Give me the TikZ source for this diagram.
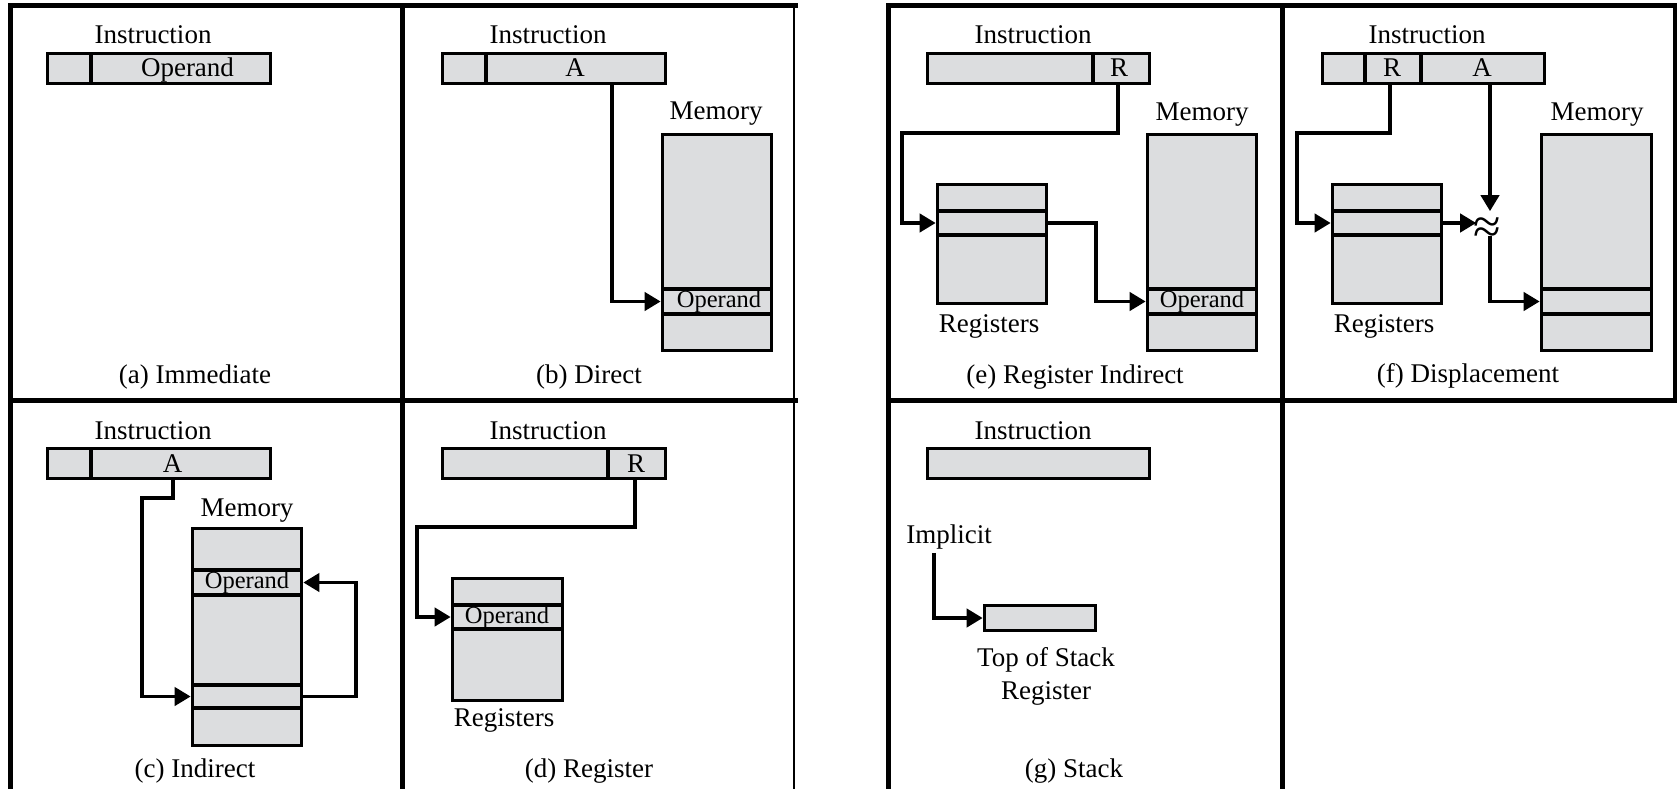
\documentclass[tikz,border=0pt]{standalone}
\usepackage{fontspec}
\setmainfont{Liberation Serif}
\usetikzlibrary{arrows.meta}
\definecolor{cellgray}{RGB}{220,221,223}
\newcommand\lbfont{\fontsize{27}{30}\selectfont}
\newcommand\opfont{\fontsize{24.5}{28}\selectfont}
\newcommand\apfont{\fontsize{50}{52}\selectfont}
\newcommand\cellat[5]{\node[cell, minimum width={(#4)-(#2)}, minimum height={(#5)-(#3)}] (#1) at ({((#2)+(#4))/2},{((#3)+(#5))/2}) {};}
\tikzset{
  frame/.style={line width=5pt, line cap=rect},
  thinframe/.style={line width=2.8pt, line cap=rect},
  cell/.style={draw, line width=3.7pt, fill=cellgray, inner sep=0pt, outer sep=0pt},
  thickdiv/.style={line width=4.8pt},
  conn/.style={line width=3.9pt, -{Triangle[length=16pt,width=18pt]}, shorten >=1.8pt},
  lbl/.style={font=\lbfont, inner sep=0pt, anchor=base},
  oplbl/.style={font=\opfont, inner sep=0pt, anchor=base},
  approx/.style={font=\apfont, inner sep=0pt},
}
\begin{document}
\begin{tikzpicture}[x=1pt,y=-1pt]
\useasboundingbox[fill=white] (0,0) rectangle (1677,789);

% ---------- frames ----------
\draw[frame] (10,800) -- (10,6) -- (795,6);
\draw[frame] (402,6) -- (402,800);
\draw[frame] (10,400) -- (795,400);
\draw[thinframe] (794,6) -- (794,800);
\draw[frame] (888,800) -- (888,6) -- (1677,6);
\draw[frame] (1282,6) -- (1282,800);
\draw[frame] (888,400) -- (1677,400);
\draw[frame, line width=4pt] (1675,6) -- (1675,400);

% ---------- (a) Immediate ----------
\node[lbl] (aT) at (153,44) {Instruction};
\cellat{aI1}{47.5}{53.5}{91}{83.5}
\cellat{aI2}{91}{53.5}{270.5}{83.5}
\node[lbl] (aOp) at (187.5,77) {Operand};
\node[lbl] (aCap) at (195,383) {(a) Immediate};

% ---------- (b) Direct ----------
\node[lbl] (bT) at (548,44) {Instruction};
\cellat{bI1}{442.5}{53.5}{486}{83.5}
\cellat{bA}{486}{53.5}{665.5}{83.5}
\node[lbl] (bAt) at (575,77) {A};
\node[lbl] (bMem) at (716,120) {Memory};
\cellat{bM1}{662.5}{134.5}{771.5}{289}
\cellat{bOp}{662.5}{289}{771.5}{314}
\cellat{bM2}{662.5}{314}{771.5}{350.5}
\draw[thickdiv] (bM2.north west) -- (bM2.north east);
\node[oplbl] (bOpt) at (719,307) {Operand};
\draw[conn] ([xshift=36.5pt]bA.south) |- (bOp.west);
\node[lbl] (bCap) at (589,383) {(b) Direct};

% ---------- (c) Indirect ----------
\node[lbl] (cT) at (153,439) {Instruction};
\cellat{cI1}{47.5}{448.5}{91}{478.5}
\cellat{cA}{91}{448.5}{270.5}{478.5}
\node[lbl] (cAt) at (172.5,472) {A};
\node[lbl] (cMem) at (247,516) {Memory};
\cellat{cM1}{192.5}{528.5}{301.5}{570}
\cellat{cOp}{192.5}{570}{301.5}{595}
\cellat{cM2}{192.5}{595}{301.5}{685}
\cellat{cPtr}{192.5}{685}{301.5}{708}
\cellat{cM3}{192.5}{708}{301.5}{745.5}
\draw[thickdiv] (cM3.north west) -- (cM3.north east);
\node[oplbl] (cOpt) at (247,588) {Operand};
\coordinate (cBend) at (142,498);
\draw[conn] ([xshift=-7.75pt]cA.south) |- (cBend) |- (cPtr.west);
\draw[conn] (cPtr.east) -- ++(54.5,0) |- (cOp.east);
\node[lbl] (cCap) at (195,777) {(c) Indirect};

% ---------- (d) Register ----------
\node[lbl] (dT) at (548,439) {Instruction};
\cellat{dI1}{442.5}{448.5}{608}{478.5}
\cellat{dR}{608}{448.5}{665.5}{478.5}
\node[lbl] (dRt) at (636,472) {R};
\cellat{dG1}{452.5}{578.5}{562.5}{605}
\cellat{dOp}{452.5}{605}{562.5}{629}
\cellat{dG2}{452.5}{629}{562.5}{700.5}
\draw[thickdiv] (dOp.north west) -- (dOp.north east);
\node[oplbl] (dOpt) at (507,623) {Operand};
\coordinate (dBend) at (417,527);
\draw[conn] ([xshift=-1.75pt]dR.south) |- (dBend) |- (dOp.west);
\node[lbl] (dReg) at (504,726) {Registers};
\node[lbl] (dCap) at (589,777) {(d) Register};

% ---------- (e) Register Indirect ----------
\node[lbl] (eT) at (1033,44) {Instruction};
\cellat{eI1}{927.5}{53.5}{1093}{83.5}
\cellat{eR}{1093}{53.5}{1149.5}{83.5}
\node[lbl] (eRt) at (1119,77) {R};
\cellat{eG1}{937.5}{184.5}{1046.5}{211}
\cellat{eSel}{937.5}{211}{1046.5}{235}
\cellat{eG2}{937.5}{235}{1046.5}{303.5}
\draw[thickdiv] (eSel.north west) -- (eSel.north east);
\node[lbl] (eReg) at (989,332) {Registers};
\node[lbl] (eMem) at (1202,121) {Memory};
\cellat{eM1}{1147.5}{134.5}{1256.5}{289}
\cellat{eOp}{1147.5}{289}{1256.5}{314}
\cellat{eM2}{1147.5}{314}{1256.5}{350.5}
\draw[thickdiv] (eM2.north west) -- (eM2.north east);
\node[oplbl] (eOpt) at (1202,307) {Operand};
\coordinate (eBend) at (902,133);
\draw[conn] ([xshift=-3.5pt]eR.south) |- (eBend) |- (eSel.west);
\draw[conn] (eSel.east) -- ++(49.5,0) |- (eOp.west);
\node[lbl] (eCap) at (1075,383) {(e) Register Indirect};

% ---------- (f) Displacement ----------
\node[lbl] (fT) at (1427,44) {Instruction};
\cellat{fI1}{1322.5}{53.5}{1365}{83.5}
\cellat{fR}{1365}{53.5}{1421}{83.5}
\cellat{fA}{1421}{53.5}{1544.5}{83.5}
\node[lbl] (fRt) at (1392,77) {R};
\node[lbl] (fAt) at (1482,77) {A};
\cellat{fG1}{1332.5}{184.5}{1441.5}{211}
\cellat{fSel}{1332.5}{211}{1441.5}{235}
\cellat{fG2}{1332.5}{235}{1441.5}{303.5}
\draw[thickdiv] (fSel.north west) -- (fSel.north east);
\node[lbl] (fReg) at (1384,332) {Registers};
\node[lbl] (fMem) at (1597,121) {Memory};
\cellat{fM1}{1541.5}{134.5}{1651.5}{289}
\cellat{fOp}{1541.5}{289}{1651.5}{314}
\cellat{fM2}{1541.5}{314}{1651.5}{350.5}
\draw[thickdiv] (fM2.north west) -- (fM2.north east);
\coordinate (fBend) at (1297,133);
\draw[conn] ([xshift=-3pt]fR.south) |- (fBend) |- (fSel.west);
\node[approx] (fX) at (1487,231) {≈};
\coordinate (fXw) at (1478,223);
\coordinate (fXn) at (1490,213);
\coordinate (fXs) at (1490,236);
\draw[conn] (fSel.east) -- (fXw);
\draw[conn] ([xshift=7.25pt]fA.south) -- (fXn);
\draw[conn] (fXs) |- (fOp.west);
\node[lbl] (fCap) at (1468,382) {(f) Displacement};

% ---------- (g) Stack ----------
\node[lbl] (gT) at (1033,439) {Instruction};
\cellat{gI}{927.5}{448.5}{1149.5}{478.5}
\node[lbl] (gImp) at (949,543) {Implicit};
\cellat{gTos}{984.5}{605.5}{1095.5}{630.5}
\draw[conn] ([xshift=-15pt,yshift=-4pt]gImp.south) |- (gTos.west);
\node[lbl] (gTop) at (1046,666) {Top of Stack};
\node[lbl] (gReg) at (1046,699) {Register};
\node[lbl] (gCap) at (1074,777) {(g) Stack};
\end{tikzpicture}
\end{document}
